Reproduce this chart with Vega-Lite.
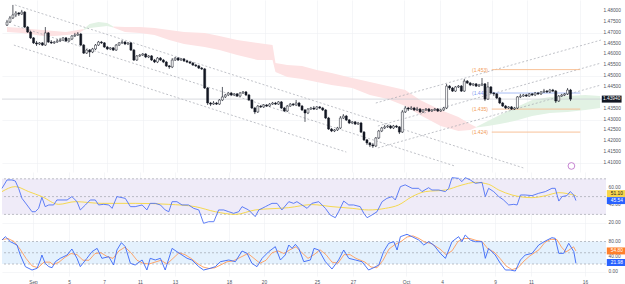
{
"$schema":"https://vega.github.io/schema/vega-lite/v6.json",
"padding":0,"spacing":0,"bounds":"flush",
"config":{"view":{"stroke":null},"font":"Liberation Sans","axis":{"labelFont":"Liberation Sans","labelFontSize":4.8,"labelColor":"#50535e","labelOverlap":false,"domain":false,"ticks":false,"gridColor":"#eef0f3","gridWidth":0.6}},
"datasets":{
"candles":[
{"i":0,"o":1.4735,"h":1.4759,"l":1.4731,"c":1.4749},{"i":1,"o":1.4749,"h":1.4777,"l":1.4745,"c":1.4768},{"i":2,"o":1.4768,"h":1.4828,"l":1.4763,"c":1.4782},{"i":3,"o":1.4782,"h":1.48,"l":1.4772,"c":1.4791},{"i":4,"o":1.4791,"h":1.4795,"l":1.4777,"c":1.4786},{"i":5,"o":1.4786,"h":1.4805,"l":1.4782,"c":1.4795},{"i":6,"o":1.4795,"h":1.48,"l":1.4722,"c":1.4726},{"i":7,"o":1.4726,"h":1.4731,"l":1.4699,"c":1.4703},{"i":8,"o":1.4703,"h":1.4708,"l":1.4671,"c":1.4676},{"i":9,"o":1.4676,"h":1.468,"l":1.4648,"c":1.4653},
{"i":10,"o":1.4653,"h":1.4662,"l":1.4639,"c":1.4648},{"i":11,"o":1.4648,"h":1.4657,"l":1.4643,"c":1.4653},{"i":12,"o":1.4653,"h":1.4657,"l":1.4639,"c":1.4643},{"i":13,"o":1.4643,"h":1.4726,"l":1.4639,"c":1.4699},{"i":14,"o":1.4699,"h":1.4703,"l":1.4653,"c":1.4657},{"i":15,"o":1.4657,"h":1.4666,"l":1.4648,"c":1.4653},{"i":16,"o":1.4653,"h":1.4662,"l":1.4648,"c":1.4657},{"i":17,"o":1.4657,"h":1.4671,"l":1.4653,"c":1.4662},{"i":18,"o":1.4662,"h":1.4676,"l":1.4657,"c":1.4666},{"i":19,"o":1.4666,"h":1.468,"l":1.4662,"c":1.4676},
{"i":20,"o":1.4676,"h":1.468,"l":1.4657,"c":1.4662},{"i":21,"o":1.4662,"h":1.4676,"l":1.4657,"c":1.4671},{"i":22,"o":1.4671,"h":1.4689,"l":1.4666,"c":1.4685},{"i":23,"o":1.4685,"h":1.4699,"l":1.468,"c":1.4689},{"i":24,"o":1.4689,"h":1.4703,"l":1.4685,"c":1.4694},{"i":25,"o":1.4694,"h":1.4699,"l":1.4639,"c":1.4643},{"i":26,"o":1.4643,"h":1.4648,"l":1.4602,"c":1.4606},{"i":27,"o":1.4606,"h":1.4625,"l":1.4602,"c":1.462},{"i":28,"o":1.462,"h":1.4625,"l":1.4588,"c":1.4611},{"i":29,"o":1.4611,"h":1.463,"l":1.4606,"c":1.4625},
{"i":30,"o":1.4625,"h":1.4648,"l":1.462,"c":1.4643},{"i":31,"o":1.4643,"h":1.4662,"l":1.4639,"c":1.4657},{"i":32,"o":1.4657,"h":1.4662,"l":1.4648,"c":1.4653},{"i":33,"o":1.4653,"h":1.4657,"l":1.463,"c":1.4634},{"i":34,"o":1.4634,"h":1.4639,"l":1.462,"c":1.4625},{"i":35,"o":1.4625,"h":1.4634,"l":1.462,"c":1.463},{"i":36,"o":1.463,"h":1.4634,"l":1.4616,"c":1.462},{"i":37,"o":1.462,"h":1.4648,"l":1.4616,"c":1.4643},{"i":38,"o":1.4643,"h":1.4657,"l":1.4639,"c":1.4653},{"i":39,"o":1.4653,"h":1.4666,"l":1.4648,"c":1.4657},
{"i":40,"o":1.4657,"h":1.4662,"l":1.4643,"c":1.4648},{"i":41,"o":1.4648,"h":1.4657,"l":1.4643,"c":1.4653},{"i":42,"o":1.4653,"h":1.4657,"l":1.4616,"c":1.462},{"i":43,"o":1.462,"h":1.4625,"l":1.457,"c":1.4574},{"i":44,"o":1.4574,"h":1.4597,"l":1.457,"c":1.4593},{"i":45,"o":1.4593,"h":1.4602,"l":1.4588,"c":1.4597},{"i":46,"o":1.4597,"h":1.4606,"l":1.4593,"c":1.4602},{"i":47,"o":1.4602,"h":1.4606,"l":1.4583,"c":1.4588},{"i":48,"o":1.4588,"h":1.4597,"l":1.4583,"c":1.4593},{"i":49,"o":1.4593,"h":1.4597,"l":1.457,"c":1.4574},
{"i":50,"o":1.4574,"h":1.4579,"l":1.456,"c":1.4565},{"i":51,"o":1.4565,"h":1.4588,"l":1.456,"c":1.4583},{"i":52,"o":1.4583,"h":1.4588,"l":1.457,"c":1.4574},{"i":53,"o":1.4574,"h":1.4579,"l":1.456,"c":1.4565},{"i":54,"o":1.4565,"h":1.457,"l":1.4542,"c":1.4547},{"i":55,"o":1.4547,"h":1.4551,"l":1.4533,"c":1.4542},{"i":56,"o":1.4542,"h":1.4583,"l":1.4537,"c":1.4574},{"i":57,"o":1.4574,"h":1.4588,"l":1.457,"c":1.4583},{"i":58,"o":1.4583,"h":1.4588,"l":1.457,"c":1.4574},{"i":59,"o":1.4574,"h":1.4583,"l":1.457,"c":1.4579},
{"i":60,"o":1.4579,"h":1.4583,"l":1.4565,"c":1.457},{"i":61,"o":1.457,"h":1.4574,"l":1.456,"c":1.4565},{"i":62,"o":1.4565,"h":1.457,"l":1.4556,"c":1.456},{"i":63,"o":1.456,"h":1.4565,"l":1.4547,"c":1.4551},{"i":64,"o":1.4551,"h":1.4556,"l":1.4542,"c":1.4547},{"i":65,"o":1.4547,"h":1.4551,"l":1.4533,"c":1.4537},{"i":66,"o":1.4537,"h":1.4542,"l":1.4528,"c":1.4533},{"i":67,"o":1.4533,"h":1.4537,"l":1.4441,"c":1.4445},{"i":68,"o":1.4445,"h":1.445,"l":1.4367,"c":1.4376},{"i":69,"o":1.4376,"h":1.4381,"l":1.4362,"c":1.4371},
{"i":70,"o":1.4371,"h":1.4385,"l":1.4367,"c":1.4376},{"i":71,"o":1.4376,"h":1.4381,"l":1.4367,"c":1.4371},{"i":72,"o":1.4371,"h":1.4394,"l":1.4367,"c":1.439},{"i":73,"o":1.439,"h":1.445,"l":1.4385,"c":1.4404},{"i":74,"o":1.4404,"h":1.4418,"l":1.4399,"c":1.4413},{"i":75,"o":1.4413,"h":1.4427,"l":1.4408,"c":1.4422},{"i":76,"o":1.4422,"h":1.4427,"l":1.4408,"c":1.4413},{"i":77,"o":1.4413,"h":1.4422,"l":1.4408,"c":1.4418},{"i":78,"o":1.4418,"h":1.4422,"l":1.4404,"c":1.4408},{"i":79,"o":1.4408,"h":1.4427,"l":1.4404,"c":1.4422},
{"i":80,"o":1.4422,"h":1.4431,"l":1.4418,"c":1.4427},{"i":81,"o":1.4427,"h":1.4431,"l":1.4408,"c":1.4413},{"i":82,"o":1.4413,"h":1.4418,"l":1.4385,"c":1.439},{"i":83,"o":1.439,"h":1.4394,"l":1.4348,"c":1.4353},{"i":84,"o":1.4353,"h":1.4358,"l":1.4325,"c":1.4335},{"i":85,"o":1.4335,"h":1.4367,"l":1.433,"c":1.4362},{"i":86,"o":1.4362,"h":1.4367,"l":1.4353,"c":1.4358},{"i":87,"o":1.4358,"h":1.4371,"l":1.4353,"c":1.4367},{"i":88,"o":1.4367,"h":1.4371,"l":1.4358,"c":1.4362},{"i":89,"o":1.4362,"h":1.4376,"l":1.4358,"c":1.4371},
{"i":90,"o":1.4371,"h":1.4381,"l":1.4367,"c":1.4376},{"i":91,"o":1.4376,"h":1.4381,"l":1.4367,"c":1.4371},{"i":92,"o":1.4371,"h":1.4385,"l":1.4367,"c":1.4381},{"i":93,"o":1.4381,"h":1.4385,"l":1.4348,"c":1.4353},{"i":94,"o":1.4353,"h":1.4358,"l":1.4335,"c":1.4339},{"i":95,"o":1.4339,"h":1.4367,"l":1.4335,"c":1.4362},{"i":96,"o":1.4362,"h":1.4376,"l":1.4358,"c":1.4371},{"i":97,"o":1.4371,"h":1.4376,"l":1.4362,"c":1.4367},{"i":98,"o":1.4367,"h":1.439,"l":1.4362,"c":1.4376},{"i":99,"o":1.4376,"h":1.4381,"l":1.4358,"c":1.4362},
{"i":100,"o":1.4362,"h":1.4367,"l":1.4339,"c":1.4344},{"i":101,"o":1.4344,"h":1.4348,"l":1.4289,"c":1.433},{"i":102,"o":1.433,"h":1.4353,"l":1.4325,"c":1.4348},{"i":103,"o":1.4348,"h":1.4358,"l":1.4344,"c":1.4353},{"i":104,"o":1.4353,"h":1.4362,"l":1.4344,"c":1.4348},{"i":105,"o":1.4348,"h":1.4362,"l":1.4344,"c":1.4358},{"i":106,"o":1.4358,"h":1.4362,"l":1.4348,"c":1.4353},{"i":107,"o":1.4353,"h":1.4358,"l":1.4339,"c":1.4344},{"i":108,"o":1.4344,"h":1.4348,"l":1.4302,"c":1.4307},{"i":109,"o":1.4307,"h":1.4312,"l":1.4252,"c":1.4256},
{"i":110,"o":1.4256,"h":1.4261,"l":1.4242,"c":1.4247},{"i":111,"o":1.4247,"h":1.4256,"l":1.4242,"c":1.4252},{"i":112,"o":1.4252,"h":1.4266,"l":1.4247,"c":1.4261},{"i":113,"o":1.4261,"h":1.4316,"l":1.4256,"c":1.4307},{"i":114,"o":1.4307,"h":1.4325,"l":1.4302,"c":1.4316},{"i":115,"o":1.4316,"h":1.4321,"l":1.4293,"c":1.4298},{"i":116,"o":1.4298,"h":1.4302,"l":1.4279,"c":1.4284},{"i":117,"o":1.4284,"h":1.4293,"l":1.4279,"c":1.4289},{"i":118,"o":1.4289,"h":1.4293,"l":1.4275,"c":1.4279},{"i":119,"o":1.4279,"h":1.4289,"l":1.4275,"c":1.4284},
{"i":120,"o":1.4284,"h":1.4289,"l":1.4238,"c":1.4242},{"i":121,"o":1.4242,"h":1.4247,"l":1.4201,"c":1.4206},{"i":122,"o":1.4206,"h":1.421,"l":1.4183,"c":1.4192},{"i":123,"o":1.4192,"h":1.4196,"l":1.4173,"c":1.4183},{"i":124,"o":1.4183,"h":1.4192,"l":1.4169,"c":1.4178},{"i":125,"o":1.4178,"h":1.4219,"l":1.4173,"c":1.4215},{"i":126,"o":1.4215,"h":1.4252,"l":1.421,"c":1.4247},{"i":127,"o":1.4247,"h":1.4266,"l":1.4242,"c":1.4261},{"i":128,"o":1.4261,"h":1.4275,"l":1.4256,"c":1.4266},{"i":129,"o":1.4266,"h":1.4275,"l":1.4261,"c":1.427},
{"i":130,"o":1.427,"h":1.4275,"l":1.4256,"c":1.4261},{"i":131,"o":1.4261,"h":1.4275,"l":1.4256,"c":1.427},{"i":132,"o":1.427,"h":1.4275,"l":1.4261,"c":1.4266},{"i":133,"o":1.4266,"h":1.427,"l":1.4233,"c":1.4242},{"i":134,"o":1.4242,"h":1.4344,"l":1.4238,"c":1.4335},{"i":135,"o":1.4335,"h":1.4362,"l":1.433,"c":1.4353},{"i":136,"o":1.4353,"h":1.4358,"l":1.4339,"c":1.4348},{"i":137,"o":1.4348,"h":1.4362,"l":1.4344,"c":1.4353},{"i":138,"o":1.4353,"h":1.4358,"l":1.4339,"c":1.4344},{"i":139,"o":1.4344,"h":1.4358,"l":1.4339,"c":1.4348},
{"i":140,"o":1.4348,"h":1.4353,"l":1.433,"c":1.4335},{"i":141,"o":1.4335,"h":1.4348,"l":1.433,"c":1.4344},{"i":142,"o":1.4344,"h":1.4353,"l":1.4339,"c":1.4348},{"i":143,"o":1.4348,"h":1.4353,"l":1.4335,"c":1.4339},{"i":144,"o":1.4339,"h":1.4348,"l":1.4335,"c":1.4344},{"i":145,"o":1.4344,"h":1.4353,"l":1.4339,"c":1.4348},{"i":146,"o":1.4348,"h":1.4353,"l":1.4335,"c":1.4339},{"i":147,"o":1.4339,"h":1.4348,"l":1.4335,"c":1.4344},{"i":148,"o":1.4344,"h":1.4358,"l":1.4339,"c":1.4353},{"i":149,"o":1.4353,"h":1.4464,"l":1.4348,"c":1.4454},
{"i":150,"o":1.4454,"h":1.4459,"l":1.4436,"c":1.4445},{"i":151,"o":1.4445,"h":1.445,"l":1.4427,"c":1.4431},{"i":152,"o":1.4431,"h":1.4454,"l":1.4427,"c":1.445},{"i":153,"o":1.445,"h":1.4459,"l":1.4445,"c":1.4454},{"i":154,"o":1.4454,"h":1.4459,"l":1.4427,"c":1.4431},{"i":155,"o":1.4431,"h":1.4487,"l":1.4427,"c":1.4477},{"i":156,"o":1.4477,"h":1.4482,"l":1.4464,"c":1.4468},{"i":157,"o":1.4468,"h":1.4473,"l":1.4454,"c":1.4459},{"i":158,"o":1.4459,"h":1.4468,"l":1.4454,"c":1.4464},{"i":159,"o":1.4464,"h":1.4468,"l":1.445,"c":1.4454},
{"i":160,"o":1.4454,"h":1.4464,"l":1.445,"c":1.4459},{"i":161,"o":1.4459,"h":1.4491,"l":1.4454,"c":1.4464},{"i":162,"o":1.4464,"h":1.4468,"l":1.4385,"c":1.4394},{"i":163,"o":1.4394,"h":1.4473,"l":1.439,"c":1.445},{"i":164,"o":1.445,"h":1.4454,"l":1.4418,"c":1.4422},{"i":165,"o":1.4422,"h":1.4427,"l":1.4408,"c":1.4418},{"i":166,"o":1.4418,"h":1.4422,"l":1.4394,"c":1.4399},{"i":167,"o":1.4399,"h":1.4404,"l":1.4371,"c":1.4376},{"i":168,"o":1.4376,"h":1.4381,"l":1.4358,"c":1.4362},{"i":169,"o":1.4362,"h":1.4367,"l":1.4348,"c":1.4353},
{"i":170,"o":1.4353,"h":1.4362,"l":1.4348,"c":1.4358},{"i":171,"o":1.4358,"h":1.4362,"l":1.4344,"c":1.4348},{"i":172,"o":1.4348,"h":1.4358,"l":1.4344,"c":1.4353},{"i":173,"o":1.4353,"h":1.4408,"l":1.4348,"c":1.4404},{"i":174,"o":1.4404,"h":1.4418,"l":1.4399,"c":1.4408},{"i":175,"o":1.4408,"h":1.4418,"l":1.4404,"c":1.4413},{"i":176,"o":1.4413,"h":1.4418,"l":1.4404,"c":1.4408},{"i":177,"o":1.4408,"h":1.4422,"l":1.4404,"c":1.4418},{"i":178,"o":1.4418,"h":1.4422,"l":1.4408,"c":1.4413},{"i":179,"o":1.4413,"h":1.4427,"l":1.4408,"c":1.4422},
{"i":180,"o":1.4422,"h":1.4427,"l":1.4413,"c":1.4418},{"i":181,"o":1.4418,"h":1.4431,"l":1.4413,"c":1.4427},{"i":182,"o":1.4427,"h":1.4441,"l":1.4422,"c":1.4431},{"i":183,"o":1.4431,"h":1.4436,"l":1.4422,"c":1.4427},{"i":184,"o":1.4427,"h":1.4441,"l":1.4422,"c":1.4436},{"i":185,"o":1.4436,"h":1.4441,"l":1.4427,"c":1.4431},{"i":186,"o":1.4431,"h":1.4436,"l":1.4376,"c":1.4385},{"i":187,"o":1.4385,"h":1.4413,"l":1.4381,"c":1.4408},{"i":188,"o":1.4408,"h":1.4418,"l":1.4404,"c":1.4413},{"i":189,"o":1.4413,"h":1.4422,"l":1.4408,"c":1.4418},
{"i":190,"o":1.4418,"h":1.4445,"l":1.4413,"c":1.4436},{"i":191,"o":1.4436,"h":1.4441,"l":1.4385,"c":1.4394}
],
"cloud":[
{"seg":"p1","k":"pink","i":0,"top":1.4726,"bot":1.4703},{"seg":"p1","k":"pink","i":5,"top":1.4722,"bot":1.4699},{"seg":"p1","k":"pink","i":8,"top":1.4717,"bot":1.4694},{"seg":"p1","k":"pink","i":12,"top":1.4712,"bot":1.4685},{"seg":"p1","k":"pink","i":16,"top":1.4708,"bot":1.4685},{"seg":"p1","k":"pink","i":20,"top":1.4703,"bot":1.4689},{"seg":"p1","k":"pink","i":24,"top":1.4712,"bot":1.4694},{"seg":"p1","k":"pink","i":26,"top":1.4717,"bot":1.4712},
{"seg":"g1","k":"green","i":26,"top":1.4717,"bot":1.4712},{"seg":"g1","k":"green","i":28,"top":1.474,"bot":1.4722},{"seg":"g1","k":"green","i":31,"top":1.4749,"bot":1.4726},{"seg":"g1","k":"green","i":34,"top":1.4745,"bot":1.4731},{"seg":"g1","k":"green","i":36,"top":1.4729,"bot":1.4724},
{"seg":"p2","k":"pink","i":36,"top":1.4729,"bot":1.4724},{"seg":"p2","k":"pink","i":40,"top":1.4726,"bot":1.4703},{"seg":"p2","k":"pink","i":45,"top":1.4726,"bot":1.4699},{"seg":"p2","k":"pink","i":50,"top":1.4722,"bot":1.4689},{"seg":"p2","k":"pink","i":55,"top":1.4712,"bot":1.4666},{"seg":"p2","k":"pink","i":60,"top":1.4703,"bot":1.4648},{"seg":"p2","k":"pink","i":67,"top":1.4699,"bot":1.4634},{"seg":"p2","k":"pink","i":72,"top":1.4685,"bot":1.462},{"seg":"p2","k":"pink","i":78,"top":1.4666,"bot":1.4597},{"seg":"p2","k":"pink","i":85,"top":1.4653,"bot":1.4574},{"seg":"p2","k":"pink","i":90,"top":1.4643,"bot":1.4574},{"seg":"p2","k":"pink","i":91,"top":1.456,"bot":1.4519},{"seg":"p2","k":"pink","i":95,"top":1.4551,"bot":1.4496},{"seg":"p2","k":"pink","i":100,"top":1.4547,"bot":1.4487},{"seg":"p2","k":"pink","i":105,"top":1.4528,"bot":1.4473},{"seg":"p2","k":"pink","i":110,"top":1.4514,"bot":1.4459},{"seg":"p2","k":"pink","i":117,"top":1.4491,"bot":1.4445},{"seg":"p2","k":"pink","i":123,"top":1.4473,"bot":1.4413},{"seg":"p2","k":"pink","i":129,"top":1.4454,"bot":1.4394},{"seg":"p2","k":"pink","i":135,"top":1.4436,"bot":1.4362},{"seg":"p2","k":"pink","i":140,"top":1.439,"bot":1.4321},{"seg":"p2","k":"pink","i":147,"top":1.4344,"bot":1.427},{"seg":"p2","k":"pink","i":153,"top":1.4312,"bot":1.4247},{"seg":"p2","k":"pink","i":157,"top":1.4279,"bot":1.4252},{"seg":"p2","k":"pink","i":159,"top":1.4266,"bot":1.4263},
{"seg":"g2","k":"green","i":159,"top":1.4266,"bot":1.4263},{"seg":"g2","k":"green","i":163,"top":1.4293,"bot":1.427},{"seg":"g2","k":"green","i":167,"top":1.4321,"bot":1.4279},{"seg":"g2","k":"green","i":172,"top":1.4353,"bot":1.4293},{"seg":"g2","k":"green","i":178,"top":1.439,"bot":1.4316},{"seg":"g2","k":"green","i":184,"top":1.4404,"bot":1.433},{"seg":"g2","k":"green","i":190,"top":1.4408,"bot":1.4335},{"seg":"g2","k":"green","i":196,"top":1.4413,"bot":1.4344},{"seg":"g2","k":"green","i":201,"top":1.4408,"bot":1.4353}
],
"chan":[
{"g":"d1","i":2.67,"p":1.4828},{"g":"d1","i":175,"p":1.4077},
{"g":"d2","i":2.33,"p":1.4735},{"g":"d2","i":151.7,"p":1.4086},
{"g":"d3","i":2.33,"p":1.4643},{"g":"d3","i":115,"p":1.415},
{"g":"a1","i":125,"p":1.4376},{"g":"a1","i":201.3,"p":1.4666},
{"g":"a2","i":125.7,"p":1.427},{"g":"a2","i":201.3,"p":1.456},
{"g":"a3","i":125.7,"p":1.4169},{"g":"a3","i":201.3,"p":1.4459}
],
"fib":[
{"p":1.453,"t":"(1.453)","k":"o"},{"p":1.4422,"t":"(1.442)","k":"b"},{"p":1.4348,"t":"(1.435)","k":"o"},{"p":1.4242,"t":"(1.424)","k":"o"}
],
"pticks":[
{"p":1.48,"t":"1.48000"},{"p":1.475,"t":"1.47500"},{"p":1.47,"t":"1.47000"},{"p":1.465,"t":"1.46500"},{"p":1.46,"t":"1.46000"},{"p":1.455,"t":"1.45500"},{"p":1.45,"t":"1.45000"},{"p":1.445,"t":"1.44500"},{"p":1.435,"t":"1.43500"},{"p":1.43,"t":"1.43000"},{"p":1.425,"t":"1.42500"},{"p":1.42,"t":"1.42000"},{"p":1.415,"t":"1.41500"},{"p":1.41,"t":"1.41000"}
],
"rsi":[
{"i":0,"v":59.3},{"i":1.67,"v":68.7},{"i":3.33,"v":68.7},{"i":4.44,"v":67.5},{"i":5.56,"v":59},{"i":6.67,"v":48},{"i":8.33,"v":40.6},{"i":10,"v":33},{"i":11.1,"v":33},{"i":12.2,"v":36.8},{"i":13.3,"v":49.2},{"i":14.4,"v":38.7},{"i":15.6,"v":40.6},{"i":17.2,"v":40.6},{"i":18.3,"v":46.2},{"i":20,"v":46.2},{"i":21.7,"v":46.2},{"i":23.3,"v":50},{"i":25,"v":44.3},{"i":26.1,"v":35},{"i":27.8,"v":40.6},{"i":29.4,"v":46.2},{"i":31.1,"v":46.2},{"i":32.2,"v":40.6},{"i":33.9,"v":41.3},{"i":35.6,"v":40.6},{"i":36.7,"v":36.8},{"i":38.3,"v":50},{"i":40,"v":48.8},{"i":41.1,"v":48},{"i":42.8,"v":38.7},{"i":44.4,"v":38.7},{"i":46.7,"v":40.6},{"i":48.3,"v":35},{"i":49.4,"v":42.4},{"i":51.1,"v":42.4},{"i":52.8,"v":40.6},{"i":54.4,"v":35},{"i":55.6,"v":33},{"i":56.7,"v":44.3},{"i":58.3,"v":44.3},{"i":60,"v":40.6},{"i":62.2,"v":40.6},{"i":63.9,"v":36.8},{"i":65.6,"v":35},{"i":67.2,"v":20},{"i":68.9,"v":21.8},{"i":70.6,"v":21.8},{"i":72.2,"v":35},{"i":73.9,"v":35},{"i":75.6,"v":33},{"i":77.2,"v":31.2},{"i":78.9,"v":33},{"i":80,"v":38.7},{"i":82.2,"v":35},{"i":84.4,"v":27.5},{"i":85.6,"v":35},{"i":86.7,"v":36.8},{"i":87.8,"v":38.7},{"i":88.9,"v":40.6},{"i":90,"v":42.4},{"i":91.7,"v":42.4},{"i":93.3,"v":35},{"i":95.6,"v":44.3},{"i":97.2,"v":42.4},{"i":98.3,"v":44.3},{"i":100,"v":40.6},{"i":101.7,"v":36.8},{"i":103.3,"v":42.4},{"i":105.6,"v":44.3},{"i":107.8,"v":36.8},{"i":109.4,"v":29.3},{"i":111.1,"v":26.3},{"i":112.2,"v":33},{"i":113.9,"v":45},{"i":115.6,"v":40.6},{"i":117.2,"v":40.6},{"i":119.4,"v":38.7},{"i":120.6,"v":31.2},{"i":121.7,"v":26.3},{"i":123.3,"v":29.3},{"i":125,"v":33},{"i":126.7,"v":44.3},{"i":128.3,"v":48},{"i":130,"v":50},{"i":131.1,"v":46.2},{"i":132.8,"v":61.2},{"i":134.4,"v":63.2},{"i":136.7,"v":59.3},{"i":138.9,"v":59.3},{"i":140,"v":55.6},{"i":142.2,"v":60},{"i":143.3,"v":57.4},{"i":145.6,"v":57.4},{"i":147.8,"v":55.6},{"i":148.9,"v":59.3},{"i":150,"v":71.3},{"i":152.2,"v":70.5},{"i":153.3,"v":66.8},{"i":154.4,"v":71.3},{"i":156.1,"v":68.7},{"i":157.8,"v":64.9},{"i":160,"v":66},{"i":161.1,"v":50},{"i":162.2,"v":59.3},{"i":163.9,"v":55.6},{"i":165.6,"v":50},{"i":167.2,"v":46.2},{"i":168.9,"v":40.6},{"i":170.6,"v":41.3},{"i":171.7,"v":40.6},{"i":172.8,"v":51.8},{"i":174.4,"v":51.8},{"i":176.7,"v":51.1},{"i":178.9,"v":53.7},{"i":181.1,"v":55.6},{"i":183.3,"v":59.3},{"i":184.4,"v":59.3},{"i":185.6,"v":45},{"i":186.7,"v":50},{"i":188.3,"v":51.1},{"i":189.4,"v":55.6},{"i":190.6,"v":51.8},{"i":191.3,"v":45.54}
],
"rsima":[
{"i":0,"v":55.6},{"i":4.4,"v":61.2},{"i":8.9,"v":55.6},{"i":13.3,"v":50},{"i":18.9,"v":41.3},{"i":24.4,"v":44.3},{"i":33.3,"v":42.4},{"i":44.4,"v":42.4},{"i":55.6,"v":41.3},{"i":64.4,"v":38.7},{"i":71.1,"v":33},{"i":77.8,"v":30},{"i":84.4,"v":35},{"i":95.6,"v":37.6},{"i":103.3,"v":41},{"i":110,"v":38.7},{"i":116.7,"v":36.8},{"i":122.2,"v":35},{"i":127.8,"v":36.8},{"i":132.2,"v":40.6},{"i":136.7,"v":50},{"i":141.1,"v":55.6},{"i":147.8,"v":57.4},{"i":153.3,"v":63},{"i":157.8,"v":66},{"i":162.2,"v":63.8},{"i":165.6,"v":57.4},{"i":170,"v":51.8},{"i":176.7,"v":48.8},{"i":181.1,"v":51},{"i":185.6,"v":54.4},{"i":191.3,"v":51.1}
],
"k":[
{"i":0,"v":84},{"i":1.1,"v":92.9},{"i":2.8,"v":79.5},{"i":5,"v":70.6},{"i":6.1,"v":44},{"i":7.8,"v":12.9},{"i":10,"v":4},{"i":11.7,"v":8.4},{"i":12.8,"v":30.7},{"i":13.3,"v":44},{"i":14.4,"v":21.8},{"i":15.6,"v":12.9},{"i":16.7,"v":10.2},{"i":17.8,"v":26.2},{"i":19.4,"v":35.1},{"i":21.7,"v":44},{"i":23.3,"v":60},{"i":25,"v":35.1},{"i":26.1,"v":12.9},{"i":28.3,"v":35.1},{"i":30,"v":52.9},{"i":31.7,"v":61.7},{"i":33.3,"v":35.1},{"i":35.6,"v":39.5},{"i":37.2,"v":17.3},{"i":38.3,"v":57.3},{"i":39.8,"v":76.9},{"i":41.1,"v":66.2},{"i":42.8,"v":21.8},{"i":44.4,"v":17.3},{"i":46.7,"v":30.7},{"i":48.3,"v":4},{"i":49.4,"v":35.1},{"i":51.1,"v":30.7},{"i":52.8,"v":35.1},{"i":54.4,"v":4},{"i":56.7,"v":61.7},{"i":58.3,"v":52.9},{"i":60,"v":44},{"i":61.7,"v":35.1},{"i":63.3,"v":30.7},{"i":65.6,"v":12.9},{"i":67.2,"v":4},{"i":69.4,"v":8.4},{"i":71.1,"v":12.9},{"i":72.8,"v":26.2},{"i":75.6,"v":30.7},{"i":77.8,"v":26.2},{"i":80,"v":54.6},{"i":81.7,"v":48.4},{"i":83.3,"v":21.8},{"i":85,"v":12.9},{"i":86.7,"v":35.1},{"i":88.9,"v":52.9},{"i":91.1,"v":66.2},{"i":92.8,"v":30.7},{"i":94.4,"v":44},{"i":95.6,"v":70.6},{"i":96.7,"v":61.7},{"i":97.8,"v":72.4},{"i":98.9,"v":61.7},{"i":100.6,"v":26.2},{"i":102.8,"v":30.7},{"i":104,"v":61.7},{"i":105.6,"v":57.3},{"i":107.8,"v":26.2},{"i":110,"v":6.6},{"i":112.2,"v":30.7},{"i":113.9,"v":57.3},{"i":115.6,"v":35.1},{"i":117.8,"v":30.7},{"i":120,"v":26.2},{"i":122.2,"v":4},{"i":123.9,"v":10.2},{"i":125.6,"v":17.3},{"i":127.2,"v":52.9},{"i":128.9,"v":75.1},{"i":130.6,"v":79.5},{"i":131.7,"v":57.3},{"i":132.8,"v":92.9},{"i":135,"v":99.1},{"i":136.7,"v":92.9},{"i":138.9,"v":84},{"i":140.6,"v":70.6},{"i":142.2,"v":79.5},{"i":143.9,"v":70.6},{"i":146.1,"v":48.4},{"i":147.8,"v":35.1},{"i":150,"v":79.5},{"i":152.2,"v":92.9},{"i":153.3,"v":79.5},{"i":154.4,"v":97.3},{"i":156.1,"v":84},{"i":157.8,"v":79.5},{"i":160,"v":79.5},{"i":161.1,"v":35.1},{"i":162.2,"v":61.7},{"i":164.4,"v":44},{"i":166.1,"v":21.8},{"i":167.8,"v":4},{"i":169.4,"v":4},{"i":171.1,"v":1.3},{"i":172.8,"v":30.7},{"i":174.4,"v":44},{"i":176.7,"v":48.4},{"i":178.9,"v":70.6},{"i":181.1,"v":81.3},{"i":183.3,"v":90.2},{"i":184.4,"v":88.4},{"i":185.6,"v":48.4},{"i":187.2,"v":48.4},{"i":188.9,"v":75.1},{"i":190.6,"v":52.9},{"i":191.3,"v":21.98}
],
"d":[
{"i":0,"v":85},{"i":2,"v":88},{"i":4,"v":80},{"i":6,"v":60},{"i":8,"v":35},{"i":10,"v":15},{"i":12,"v":10},{"i":14,"v":25},{"i":16,"v":25},{"i":17,"v":18},{"i":19,"v":25},{"i":21,"v":38},{"i":23,"v":48},{"i":25,"v":45},{"i":27,"v":30},{"i":29,"v":30},{"i":31,"v":48},{"i":33,"v":50},{"i":35,"v":40},{"i":37,"v":35},{"i":39,"v":55},{"i":41,"v":65},{"i":43,"v":50},{"i":45,"v":30},{"i":47,"v":22},{"i":49,"v":20},{"i":51,"v":25},{"i":53,"v":30},{"i":55,"v":20},{"i":57,"v":35},{"i":59,"v":50},{"i":61,"v":45},{"i":63,"v":35},{"i":65,"v":22},{"i":67,"v":12},{"i":69,"v":8},{"i":71,"v":10},{"i":73,"v":18},{"i":75,"v":26},{"i":77,"v":28},{"i":80,"v":40},{"i":82,"v":48},{"i":84,"v":35},{"i":86,"v":22},{"i":88,"v":30},{"i":90,"v":50},{"i":92,"v":55},{"i":94,"v":48},{"i":96,"v":58},{"i":98,"v":66},{"i":100,"v":50},{"i":102,"v":35},{"i":104,"v":45},{"i":106,"v":58},{"i":108,"v":45},{"i":110,"v":25},{"i":112,"v":22},{"i":114,"v":45},{"i":116,"v":45},{"i":118,"v":35},{"i":121,"v":25},{"i":123,"v":12},{"i":125,"v":10},{"i":127,"v":30},{"i":129,"v":60},{"i":131,"v":72},{"i":133,"v":80},{"i":135,"v":92},{"i":137,"v":95},{"i":139,"v":88},{"i":141,"v":78},{"i":143,"v":75},{"i":146,"v":60},{"i":148,"v":45},{"i":150,"v":55},{"i":152,"v":80},{"i":154,"v":88},{"i":156,"v":88},{"i":158,"v":83},{"i":160,"v":80},{"i":162,"v":60},{"i":164,"v":52},{"i":166,"v":35},{"i":168,"v":15},{"i":170,"v":5},{"i":172,"v":10},{"i":174,"v":28},{"i":176,"v":42},{"i":179,"v":58},{"i":181,"v":78},{"i":183,"v":86},{"i":185,"v":85},{"i":186.5,"v":65},{"i":188,"v":52},{"i":189.5,"v":60},{"i":190.5,"v":66},{"i":191.3,"v":54.8}
]
},
"vconcat":[
{
"width":604,"height":172,
"layer":[
{"data":{"name":"cloud"},"mark":{"type":"area","clip":true},
 "encoding":{
  "x":{"field":"i","type":"quantitative","scale":{"domain":[0,201.33],"nice":false,"zero":false},"axis":{"values":[10.33,22.33,34,46,57.67,75.67,87.33,105,117,134.67,146.67,164.33,176.33,194.33],"labels":false,"grid":true,"title":null}},
  "y":{"field":"top","type":"quantitative","scale":{"domain":[1.40581,1.48507],"nice":false,"zero":false},"axis":{"orient":"right","values":[1.41,1.415,1.42,1.425,1.43,1.435,1.44,1.445,1.45,1.455,1.46,1.465,1.47,1.475,1.48],"labels":false,"grid":true,"title":null}},
  "y2":{"field":"bot"},
  "detail":{"field":"seg"},
  "fill":{"condition":{"test":"datum.k=='green'","value":"#e2f2e4"},"value":"#fde2e3"}}},
{"data":{"name":"chan"},"mark":{"type":"line","strokeWidth":0.7,"strokeDash":[2,2],"color":"#a5a8b0","clip":true},
 "encoding":{"x":{"field":"i","type":"quantitative","axis":{"title":null}},"y":{"field":"p","type":"quantitative","axis":{"title":null}},"detail":{"field":"g"}}},
{"data":{"values":[{"p":1.4394}]},"mark":{"type":"rule","color":"#c9cbd1","strokeWidth":0.7},
 "encoding":{"y":{"field":"p","type":"quantitative","axis":{"title":null}}}},
{"data":{"name":"fib"},"mark":{"type":"rule","strokeWidth":0.9},
 "encoding":{"x":{"datum":164.3,"type":"quantitative","axis":{"title":null}},"x2":{"datum":194.3},"y":{"field":"p","type":"quantitative","axis":{"title":null}},
  "color":{"condition":{"test":"datum.k=='b'","value":"#9db4f2"},"value":"#f7bb8c"}}},
{"data":{"name":"fib"},"mark":{"type":"text","fontSize":5,"align":"center"},
 "encoding":{"x":{"datum":160.3,"type":"quantitative","axis":{"title":null}},"y":{"field":"p","type":"quantitative","axis":{"title":null}},"text":{"field":"t"},
  "color":{"condition":{"test":"datum.k=='b'","value":"#7d9af0"},"value":"#f29a55"}}},
{"data":{"name":"candles"},"mark":{"type":"rule","strokeWidth":0.7,"color":"#131722"},
 "encoding":{"x":{"field":"i","type":"quantitative","axis":{"title":null}},"y":{"field":"l","type":"quantitative","axis":{"title":null}},"y2":{"field":"h"}}},
{"data":{"name":"candles"},"mark":{"type":"bar","width":2,"stroke":"#131722","strokeWidth":0.5},
 "encoding":{"x":{"field":"i","type":"quantitative","axis":{"title":null}},"y":{"field":"o","type":"quantitative","axis":{"title":null}},"y2":{"field":"c"},
  "fill":{"condition":{"test":"datum.c>=datum.o","value":"#ffffff"},"value":"#131722"}}},
{"data":{"values":[{"p":1.4086}]},"mark":{"type":"point","shape":"circle","size":45,"stroke":"#9c27b0","strokeWidth":0.8,"fill":"#ffffff","filled":false},
 "encoding":{"x":{"datum":191.3,"type":"quantitative","axis":{"title":null}},"y":{"field":"p","type":"quantitative","axis":{"title":null}}}},
{"data":{"name":"pticks"},"mark":{"type":"text","fontSize":4.8,"align":"left","baseline":"middle","color":"#50535e","clip":false},
 "encoding":{"x":{"datum":202.2,"type":"quantitative","axis":{"title":null}},"y":{"field":"p","type":"quantitative","axis":{"title":null}},"text":{"field":"t"}}},
{"data":{"values":[{"lo":1.43779,"hi":1.44101}]},"mark":{"type":"rect","color":"#131722","clip":false},
 "encoding":{"x":{"datum":201.6,"type":"quantitative","axis":{"title":null}},"x2":{"datum":208.3},"y":{"field":"lo","type":"quantitative","axis":{"title":null}},"y2":{"field":"hi"}}},
{"data":{"values":[{"p":1.4394,"t":"1.43940"}]},"mark":{"type":"text","color":"#ffffff","fontSize":4.8,"clip":false},
 "encoding":{"x":{"datum":204.95,"type":"quantitative","axis":{"title":null}},"y":{"field":"p","type":"quantitative","axis":{"title":null}},"text":{"field":"t"}}}
]
},
{
"width":604,"height":61,
"layer":[
{"data":{"values":[{"a":70,"b":30}]},"mark":{"type":"rect","color":"#efebf8"},
 "encoding":{
  "x":{"datum":0,"type":"quantitative","scale":{"domain":[0,201.33],"nice":false,"zero":false},"axis":{"values":[10.33,22.33,34,46,57.67,75.67,87.33,105,117,134.67,146.67,164.33,176.33,194.33],"labels":false,"grid":true,"title":null}},
  "x2":{"datum":201.33},
  "y":{"field":"a","type":"quantitative","scale":{"domain":[9.1,77.64],"nice":false,"zero":false},"axis":{"orient":"right","values":[20,40,60],"labels":false,"grid":true,"title":null}},
  "y2":{"field":"b"}}},
{"data":{"values":[{"v":70},{"v":50},{"v":30}]},"mark":{"type":"rule","color":"#9598a1","strokeDash":[2,2],"strokeWidth":0.6},
 "encoding":{"y":{"field":"v","type":"quantitative","axis":{"title":null}}}},
{"data":{"name":"rsima"},"mark":{"type":"line","color":"#f5d63d","strokeWidth":0.9,"interpolate":"monotone"},
 "encoding":{"x":{"field":"i","type":"quantitative","axis":{"title":null}},"y":{"field":"v","type":"quantitative","axis":{"title":null}}}},
{"data":{"name":"rsi"},"mark":{"type":"line","color":"#4f72f5","strokeWidth":0.9},
 "encoding":{"x":{"field":"i","type":"quantitative","axis":{"title":null}},"y":{"field":"v","type":"quantitative","axis":{"title":null}}}},
{"data":{"values":[{"v":60,"t":"60.00"},{"v":40,"t":"40.00"},{"v":20,"t":"20.00"}]},"mark":{"type":"text","fontSize":4.8,"align":"left","baseline":"middle","color":"#50535e","clip":false},
 "encoding":{"x":{"datum":202.2,"type":"quantitative","axis":{"title":null}},"y":{"field":"v","type":"quantitative","axis":{"title":null}},"text":{"field":"t"}}},
{"data":{"values":[{"lo":49.5,"hi":57.3,"bg":"#f7d54a"},{"lo":41.6,"hi":49.4,"bg":"#2962ff"}]},"mark":{"type":"rect","clip":false},
 "encoding":{"x":{"datum":201.6,"type":"quantitative","axis":{"title":null}},"x2":{"datum":208.3},"y":{"field":"lo","type":"quantitative","axis":{"title":null}},"y2":{"field":"hi"},"color":{"field":"bg","type":"nominal","scale":null}}},
{"data":{"values":[{"m":53.4,"t":"51.10","fg":"#131722"},{"m":45.5,"t":"45.54","fg":"#ffffff"}]},"mark":{"type":"text","fontSize":4.8,"clip":false},
 "encoding":{"x":{"datum":204.95,"type":"quantitative","axis":{"title":null}},"y":{"field":"m","type":"quantitative","axis":{"title":null}},"text":{"field":"t"},"color":{"field":"fg","type":"nominal","scale":null}}}
]
},
{
"width":604,"height":43,
"layer":[
{"data":{"values":[{"a":80,"b":20}]},"mark":{"type":"rect","color":"#e4f1fd"},
 "encoding":{
  "x":{"datum":0,"type":"quantitative","scale":{"domain":[0,201.33],"nice":false,"zero":false},"axis":{"values":[10.33,22.33,34,46,57.67,75.67,87.33,105,117,134.67,146.67,164.33,176.33,194.33],"labelExpr":"['Sep','5','7','11','13','18','20','25','27','Oct','4','9','11','16'][indexof([10.33,22.33,34,46,57.67,75.67,87.33,105,117,134.67,146.67,164.33,176.33,194.33], datum.value)]","grid":true,"labelOverlap":false,"labelFlush":false,"labelPadding":3,"title":null}},
  "x2":{"datum":201.33},
  "y":{"field":"a","type":"quantitative","scale":{"domain":[-12,102.67],"nice":false,"zero":false},"axis":{"orient":"right","values":[0,40,80],"labels":false,"grid":true,"title":null}},
  "y2":{"field":"b"}}},
{"data":{"values":[{"v":80},{"v":50},{"v":20}]},"mark":{"type":"rule","color":"#9598a1","strokeDash":[2,2],"strokeWidth":0.6},
 "encoding":{"y":{"field":"v","type":"quantitative","axis":{"title":null}}}},
{"data":{"name":"d"},"mark":{"type":"line","color":"#ff9d5c","strokeWidth":0.9},
 "encoding":{"x":{"field":"i","type":"quantitative","axis":{"title":null}},"y":{"field":"v","type":"quantitative","axis":{"title":null}}}},
{"data":{"name":"k"},"mark":{"type":"line","color":"#3a66f7","strokeWidth":0.9},
 "encoding":{"x":{"field":"i","type":"quantitative","axis":{"title":null}},"y":{"field":"v","type":"quantitative","axis":{"title":null}}}},
{"data":{"values":[{"v":80,"t":"80.00"},{"v":40,"t":"40.00"},{"v":0,"t":"0.00"}]},"mark":{"type":"text","fontSize":4.8,"align":"left","baseline":"middle","color":"#50535e","clip":false},
 "encoding":{"x":{"datum":202.2,"type":"quantitative","axis":{"title":null}},"y":{"field":"v","type":"quantitative","axis":{"title":null}},"text":{"field":"t"}}},
{"data":{"values":[{"lo":45.5,"hi":64.1,"bg":"#ff7f2a"},{"lo":14.7,"hi":33.3,"bg":"#2962ff"}]},"mark":{"type":"rect","clip":false},
 "encoding":{"x":{"datum":201.6,"type":"quantitative","axis":{"title":null}},"x2":{"datum":208.3},"y":{"field":"lo","type":"quantitative","axis":{"title":null}},"y2":{"field":"hi"},"color":{"field":"bg","type":"nominal","scale":null}}},
{"data":{"values":[{"m":54.8,"t":"54.80"},{"m":24,"t":"21.98"}]},"mark":{"type":"text","fontSize":4.8,"color":"#ffffff","clip":false},
 "encoding":{"x":{"datum":204.95,"type":"quantitative","axis":{"title":null}},"y":{"field":"m","type":"quantitative","axis":{"title":null}},"text":{"field":"t"}}}
]
}
]
}
